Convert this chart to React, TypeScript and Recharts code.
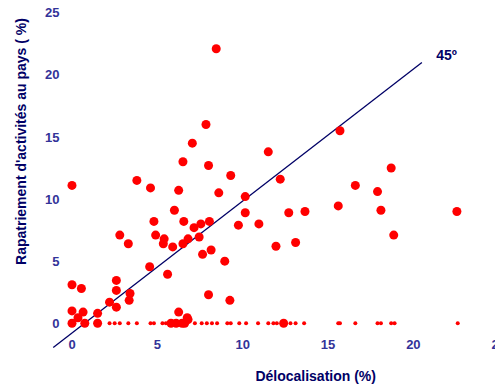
import React from "react";
import { ScatterChart, Scatter, XAxis, YAxis, ReferenceLine, ReferenceDot } from "recharts";

// pays : délocalisation (x) vs rapatriement (y), en %
const deloc = [
  0, 3.8, 4.6, 6.5, 8.0, 9.3, 11.5, 12.2, 12.7, 13.1, 6.25, 8.6, 10.15, 10.15, 6.0, 4.8,
  6.55, 8.05, 7.55, 7.15, 9.75, 10.95, 2.8, 4.9, 5.4, 5.35, 3.3, 5.9, 6.8, 6.5, 7.45, 8.15,
  7.65, 8.95, 11.95, 4.55, 5.6, 2.6, 2.6, 3.4, 3.35, 2.2, 2.6, 8.0, 9.25, 0, 0.55, 0, 0.65,
  1.5, 0.35, 6.25, 6.75, 6.8, 0, 0.75, 1.5, 5.8, 6.1, 6.45, 6.6, 12.4, 15.7, 18.7, 16.6,
  17.9, 15.6, 18.1, 22.55, 13.65, 18.85, 8.45, 7.85, 7.05,
];
const rapat = [
  11.1, 11.5, 10.9, 13.0, 12.7, 11.9, 13.8, 11.6, 8.9, 6.5, 10.7, 10.5, 10.2, 8.9, 9.1, 8.2,
  8.2, 8.2, 8.0, 7.7, 7.9, 8.0, 7.1, 7.1, 6.8, 6.4, 6.4, 6.15, 6.8, 6.4, 6.95, 5.9,
  5.55, 5.0, 6.2, 4.55, 3.95, 3.45, 2.65, 2.4, 1.85, 1.7, 1.3, 2.3, 1.85, 3.1, 2.8, 1.0, 0.9,
  0.8, 0.45, 0.9, 0.45, 0.3, 0, 0, 0, 0, 0, 0, 0, 0, 15.5, 12.5, 11.1,
  10.6, 9.45, 9.1, 9.0, 9.0, 7.1, 22.1, 16.0, 14.5,
];
// petits points sur l'axe (rapatriement nul)
const delocSansRapat = [
  2.2, 2.5, 2.8, 3.3, 3.8, 4.6, 4.8, 5.3, 5.5, 7.2, 7.6, 7.9, 8.2, 8.5, 9.1, 9.3, 9.8, 10.2,
  10.9, 11.5, 11.8, 12.0, 12.8, 13.1, 13.6, 15.6, 15.7, 16.6, 17.9, 18.1, 18.7, 18.9, 22.6,
];
const ticks = [0, 5, 10, 15, 20, 25];
const diagonal = [
  { x: -1.1, y: -1.95 },
  { x: 20.5, y: 21.0 },
];

const NAVY = "#000066";
const TICK = "#333399";
const RED = "#ff0000";

const points = deloc.map((x, i) => ({ x, y: rapat[i] }));
const rug = delocSansRapat.map((x) => ({ x, y: 0 }));

const BigDot = (props: any) => <circle cx={props.cx} cy={props.cy} r={4.5} fill={RED} />;
const SmallDot = (props: any) => <circle cx={props.cx} cy={props.cy} r={2} fill={RED} />;

const XTitle = () => (
  <text x={315.7} y={380.5} textAnchor="middle" fill={NAVY} fontSize={14} fontWeight={700}>
    Délocalisation (%)
  </text>
);

const YTitle = () => (
  <text
    x={25.5}
    y={141.5}
    transform="rotate(-90 25.5 141.5)"
    textAnchor="middle"
    fill={NAVY}
    fontSize={14}
    fontWeight={700}
  >
    Rapatriement d'activités au pays ( %)
  </text>
);

export default function App() {
  return (
    <div
      style={{
        position: "fixed",
        left: 0,
        top: 0,
        width: 495,
        height: 385,
        overflow: "hidden",
        background: "#fff",
        fontFamily: "'Liberation Sans', Arial, sans-serif",
      }}
    >
      <ScatterChart width={520} height={385} margin={{ top: 12.7, right: 21.3, bottom: 0, left: 0 }}>
        <XAxis
          type="number"
          dataKey="x"
          domain={[0, 25]}
          ticks={ticks}
          interval={0}
          axisLine={false}
          tickLine={false}
          tickSize={0}
          tickMargin={16.7}
          height={61.7}
          tick={{ fill: TICK, fontSize: 13, fontWeight: 700 }}
          label={<XTitle />}
        />
        <YAxis
          type="number"
          dataKey="y"
          domain={[0, 25]}
          ticks={ticks}
          interval={0}
          axisLine={false}
          tickLine={false}
          tickSize={0}
          tickMargin={12.5}
          width={72}
          tick={{ fill: TICK, fontSize: 13, fontWeight: 700 }}
          label={<YTitle />}
        />
        <ReferenceLine segment={diagonal} stroke={NAVY} strokeWidth={1.3} ifOverflow="visible" />
        <ReferenceDot
          x={21.95}
          y={21.56}
          r={1}
          fill="none"
          stroke="none"
          label={{ value: "45º", position: "center", fill: NAVY, fontSize: 14, fontWeight: 700 }}
        />
        <Scatter data={rug} shape={<SmallDot />} isAnimationActive={false} />
        <Scatter data={points} shape={<BigDot />} isAnimationActive={false} />
      </ScatterChart>
    </div>
  );
}
